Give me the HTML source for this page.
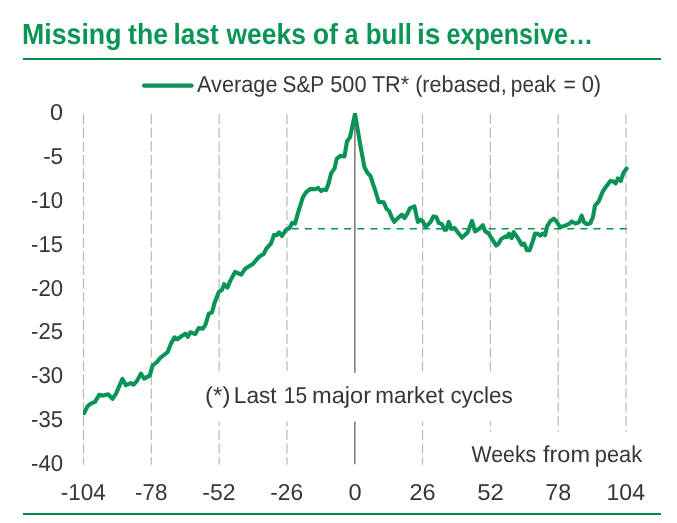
<!DOCTYPE html>
<html lang="en">
<head>
<meta charset="utf-8">
<title>Missing the last weeks of a bull is expensive…</title>
<style>
html,body{margin:0;padding:0;background:#fff;}
body{width:677px;height:523px;overflow:hidden;font-family:"Liberation Sans",sans-serif;}
svg{display:block;}
.t{font-family:"Liberation Sans",sans-serif;font-size:23px;text-rendering:geometricPrecision;fill:#363636;}
.title{font-family:"Liberation Sans",sans-serif;font-weight:bold;font-size:29.1px;text-rendering:geometricPrecision;fill:#0b9554;}
</style>
</head>
<body>
<svg width="677" height="523" viewBox="0 0 677 523">
<rect width="677" height="523" fill="#fff"/>
<g class="title">
<text y="44.2"><tspan x="22.08" textLength="99.37" lengthAdjust="spacingAndGlyphs">Missing</tspan> <tspan x="128.10" textLength="39.96" lengthAdjust="spacingAndGlyphs">the</tspan> <tspan x="173.56" textLength="45.11" lengthAdjust="spacingAndGlyphs">last</tspan> <tspan x="226.58" textLength="79.30" lengthAdjust="spacingAndGlyphs">weeks</tspan> <tspan x="312.66" textLength="25.21" lengthAdjust="spacingAndGlyphs">of</tspan> <tspan x="344.52" textLength="13.98" lengthAdjust="spacingAndGlyphs">a</tspan> <tspan x="365.76" textLength="46.13" lengthAdjust="spacingAndGlyphs">bull</tspan> <tspan x="416.96" textLength="23.53" lengthAdjust="spacingAndGlyphs">is</tspan> <tspan x="446.62" textLength="146.40" lengthAdjust="spacingAndGlyphs">expensive…</tspan></text>
</g>
<rect x="23" y="58" width="638" height="2" fill="#008c4b"/>
<rect x="23" y="513" width="638" height="2" fill="#008c4b"/>
<line x1="144" y1="85.6" x2="191.7" y2="85.6" stroke="#0a9357" stroke-width="4.2" stroke-linecap="round"/>
<g class="t">
<text y="92.1"><tspan x="196.96" textLength="80.54" lengthAdjust="spacingAndGlyphs">Average</tspan> <tspan x="282.56" textLength="41.25" lengthAdjust="spacingAndGlyphs">S&amp;P</tspan> <tspan x="330.18" textLength="36.32" lengthAdjust="spacingAndGlyphs">500</tspan> <tspan x="371.89" textLength="37.26" lengthAdjust="spacingAndGlyphs">TR*</tspan> <tspan x="415.13" textLength="91.54" lengthAdjust="spacingAndGlyphs">(rebased,</tspan> <tspan x="510.84" textLength="45.21" lengthAdjust="spacingAndGlyphs">peak</tspan> <tspan x="563.62" textLength="12.34" lengthAdjust="spacingAndGlyphs">=</tspan> <tspan x="581.64" textLength="19.45" lengthAdjust="spacingAndGlyphs">0)</tspan></text>
</g>
<g stroke="#b8b8b8" stroke-width="1.2" stroke-dasharray="10.2 3.546" fill="none">
<line x1="83.50" y1="113.7" x2="83.50" y2="464.7"/>
<line x1="151.31" y1="113.7" x2="151.31" y2="464.7"/>
<line x1="219.12" y1="113.7" x2="219.12" y2="464.7"/>
<line x1="286.93" y1="113.7" x2="286.93" y2="464.7"/>
<line x1="422.55" y1="113.7" x2="422.55" y2="464.7"/>
<line x1="490.36" y1="113.7" x2="490.36" y2="464.7"/>
<line x1="558.17" y1="113.7" x2="558.17" y2="464.7"/>
<line x1="625.98" y1="113.7" x2="625.98" y2="464.7"/>
</g>
<line x1="354.85" y1="113.4" x2="354.85" y2="464.3" stroke="#7f7f7f" stroke-width="1.6"/>
<line x1="291.7" y1="228.7" x2="626.6" y2="228.7" stroke="#0a9357" stroke-width="1.6" stroke-dasharray="7 6.12"/>
<clipPath id="plot"><rect x="83" y="113" width="552" height="352"/></clipPath>
<g clip-path="url(#plot)"><polyline transform="translate(0.3,0.5)" fill="none" stroke="#0a9357" stroke-width="4.1" stroke-linejoin="round" stroke-linecap="round" points="83.8,412.6 87.2,405.9 90.5,403.1 94.7,401.4 98.9,394.3 103.0,395.1 108.0,393.8 112.2,398.4 115.6,393.4 122.2,378.4 125.6,384.7 130.6,382.6 133.1,384.2 136.4,380.9 140.6,373.1 143.9,378.1 149.4,375.1 152.3,365.0 156.5,361.7 159.8,357.5 167.3,351.7 170.6,343.3 174.2,336.8 177.0,338.8 180.0,336.5 185.0,333.1 187.5,336.3 190.0,331.8 195.0,333.5 198.4,327.6 202.6,328.1 205.1,324.3 208.4,313.4 211.7,311.8 214.2,302.6 218.4,291.7 221.8,289.2 223.8,283.7 227.1,287.2 230.1,280.0 234.8,271.4 240.9,274.2 245.1,268.0 252.6,263.5 256.8,258.5 259.2,256.0 263.4,253.5 265.9,248.4 270.9,242.6 273.7,234.3 276.4,234.8 278.7,231.8 281.7,235.4 285.9,229.2 289.2,227.6 291.7,222.6 294.7,223.1 297.6,212.6 302.6,196.7 305.9,191.7 310.1,188.4 315.1,188.8 317.8,187.3 320.9,190.6 323.4,189.1 325.9,189.6 328.4,182.5 330.9,172.6 334.2,168.1 336.4,158.4 340.0,155.4 344.2,155.9 346.7,140.9 349.7,136.7 354.7,113.4 360.1,145.1 364.2,166.8 366.8,171.8 370.4,175.9 372.6,183.4 374.2,187.5 378.4,201.4 383.4,201.7 386.4,208.7 388.7,210.4 391.4,216.7 393.9,221.4 397.6,217.6 401.7,214.2 404.2,217.6 407.1,213.1 409.7,207.6 414.2,205.9 415.9,214.2 417.6,221.4 420.1,219.2 422.6,220.9 425.1,226.4 430.1,221.7 433.1,215.9 435.9,216.4 438.5,222.6 441.5,223.4 444.3,229.3 446.0,229.3 448.5,221.4 451.0,228.4 454.3,227.6 457.8,232.2 461.8,237.1 464.3,234.8 467.5,231.7 471.7,220.4 474.7,230.9 479.2,228.1 482.5,224.7 485.0,230.9 488.0,232.6 491.7,238.4 495.9,245.1 498.1,243.4 500.9,238.4 505.1,235.9 506.7,236.7 508.7,233.1 511.4,237.6 513.4,231.7 517.6,237.6 521.4,244.3 523.8,243.1 526.8,249.8 529.3,249.8 532.1,241.8 534.8,233.1 537.6,233.4 540.1,235.1 542.1,233.1 544.8,234.7 546.8,225.9 550.1,220.5 553.5,218.2 556.0,220.5 559.8,226.7 565.0,225.1 568.7,223.4 571.4,220.9 575.1,223.1 578.7,221.8 581.4,215.1 583.7,221.8 586.7,223.8 590.1,222.6 592.6,216.8 594.7,205.1 598.4,200.9 602.1,191.7 605.9,185.9 610.1,180.4 613.1,180.9 615.4,183.0 617.6,178.0 620.5,180.4 623.1,172.5 626.3,168.0"/></g>
<rect x="200" y="372.8" width="318" height="48.8" fill="#fff"/>
<rect x="466" y="431.5" width="182" height="49" fill="#fff"/>
<g class="t">
<text y="403.3"><tspan x="205.12" textLength="25.35" lengthAdjust="spacingAndGlyphs">(*)</tspan> <tspan x="233.78" textLength="42.87" lengthAdjust="spacingAndGlyphs">Last</tspan> <tspan x="283.75" textLength="23.35" lengthAdjust="spacingAndGlyphs">15</tspan> <tspan x="311.97" textLength="59.06" lengthAdjust="spacingAndGlyphs">major</tspan> <tspan x="375.36" textLength="68.50" lengthAdjust="spacingAndGlyphs">market</tspan> <tspan x="450.38" textLength="62.44" lengthAdjust="spacingAndGlyphs">cycles</tspan></text>
<text y="461.8"><tspan x="471.56" textLength="64.72" lengthAdjust="spacingAndGlyphs">Weeks</tspan> <tspan x="542.94" textLength="47.08" lengthAdjust="spacingAndGlyphs">from</tspan> <tspan x="594.85" textLength="47.32" lengthAdjust="spacingAndGlyphs">peak</tspan></text>
<text y="120.3"><tspan x="49.98" textLength="12.99" lengthAdjust="spacingAndGlyphs">0</tspan></text>
<text y="164.1"><tspan x="43.13" textLength="20.02" lengthAdjust="spacingAndGlyphs">-5</tspan></text>
<text y="207.9"><tspan x="31.04" textLength="32.00" lengthAdjust="spacingAndGlyphs">-10</tspan></text>
<text y="251.8"><tspan x="31.04" textLength="31.91" lengthAdjust="spacingAndGlyphs">-15</tspan></text>
<text y="295.6"><tspan x="31.04" textLength="32.00" lengthAdjust="spacingAndGlyphs">-20</tspan></text>
<text y="339.4"><tspan x="31.04" textLength="31.91" lengthAdjust="spacingAndGlyphs">-25</tspan></text>
<text y="383.2"><tspan x="31.04" textLength="32.00" lengthAdjust="spacingAndGlyphs">-30</tspan></text>
<text y="427.0"><tspan x="31.04" textLength="31.91" lengthAdjust="spacingAndGlyphs">-35</tspan></text>
<text y="470.9"><tspan x="31.04" textLength="32.00" lengthAdjust="spacingAndGlyphs">-40</tspan></text>
<text y="500.2"><tspan x="60.72" textLength="45.10" lengthAdjust="spacingAndGlyphs">-104</tspan> <tspan x="135.03" textLength="32.30" lengthAdjust="spacingAndGlyphs">-78</tspan> <tspan x="202.25" textLength="33.18" lengthAdjust="spacingAndGlyphs">-52</tspan> <tspan x="270.17" textLength="32.88" lengthAdjust="spacingAndGlyphs">-26</tspan> <tspan x="348.47" textLength="13.12" lengthAdjust="spacingAndGlyphs">0</tspan> <tspan x="409.55" textLength="26.16" lengthAdjust="spacingAndGlyphs">26</tspan> <tspan x="477.22" textLength="26.64" lengthAdjust="spacingAndGlyphs">52</tspan> <tspan x="545.35" textLength="25.96" lengthAdjust="spacingAndGlyphs">78</tspan> <tspan x="606.55" textLength="38.40" lengthAdjust="spacingAndGlyphs">104</tspan></text>
</g>
</svg>
</body>
</html>
